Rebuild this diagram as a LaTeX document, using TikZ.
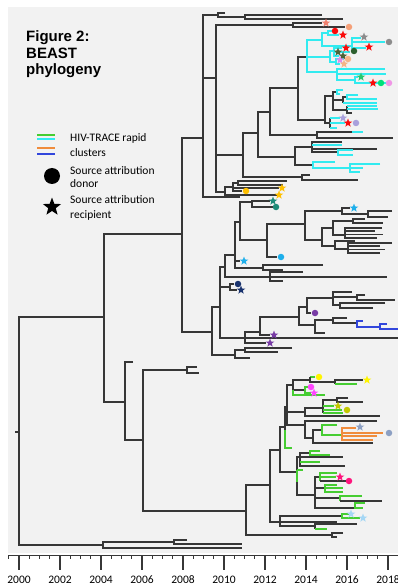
\documentclass[tikz,border=0pt]{standalone}
\usepackage{fontspec}
\setmainfont{Carlito}
\newfontfamily\ttlfont{Liberation Sans}
\usetikzlibrary{shapes.geometric}

\definecolor{bgc}{RGB}{242,242,242}
\definecolor{treec}{RGB}{55,55,55}
\definecolor{cyanc}{RGB}{50,235,240}
\definecolor{greenc}{RGB}{70,205,50}
\definecolor{orangec}{RGB}{240,140,60}
\definecolor{bluec}{RGB}{50,70,220}
\definecolor{salm}{RGB}{240,128,110}
\definecolor{salm2}{RGB}{245,160,120}
\definecolor{redc}{RGB}{250,10,10}
\definecolor{grayc}{RGB}{140,140,140}
\definecolor{dkgr}{RGB}{75,100,55}
\definecolor{dkgr2}{RGB}{45,95,45}
\definecolor{viol}{RGB}{225,140,235}
\definecolor{peach}{RGB}{245,180,135}
\definecolor{mgreen}{RGB}{40,200,110}
\definecolor{mint}{RGB}{0,225,120}
\definecolor{pinkc}{RGB}{240,150,230}
\definecolor{lav}{RGB}{170,160,220}
\definecolor{gold}{RGB}{255,192,0}
\definecolor{tealc}{RGB}{30,140,120}
\definecolor{skyb}{RGB}{30,175,235}
\definecolor{navyc}{RGB}{25,50,110}
\definecolor{purp}{RGB}{120,60,165}
\definecolor{yell}{RGB}{255,245,0}
\definecolor{mag}{RGB}{255,70,255}
\definecolor{olivc}{RGB}{195,200,0}
\definecolor{slate}{RGB}{140,160,195}
\definecolor{dpink}{RGB}{255,20,125}
\definecolor{lblue}{RGB}{165,215,245}

\tikzset{
  br/.style={draw=treec, line width=1.1pt},
  cy/.style={draw=cyanc, line width=1.1pt},
  gr/.style={draw=greenc, line width=1.1pt},
  og/.style={draw=orangec, line width=1.1pt},
  bl/.style={draw=bluec, line width=1.1pt},
  axis/.style={draw=treec, line width=1pt},
  donor/.style={circle, fill=#1, inner sep=0pt, minimum size=6.5pt},
  recip/.style={star, star points=5, star point ratio=2.4, fill=#1, inner sep=0pt, minimum size=9pt},
  lab/.style={anchor=base west, inner sep=0pt, font=\fontsize{11.5}{13}\selectfont},
  ttl/.style={anchor=base west, inner sep=0pt, font=\ttlfont\bfseries\fontsize{15}{17}\selectfont},
  yrlab/.style={anchor=base, inner sep=0pt, font=\fontsize{11.5}{13}\selectfont},
}

\newcounter{mk}
\newcommand{\dnr}[3]{\stepcounter{mk}\node[donor=#1] (mk\themk) at (#2,#3) {};}
\newcommand{\rcp}[3]{\stepcounter{mk}\node[recip=#1] (mk\themk) at (#2,#3) {};}

\begin{document}
\begin{tikzpicture}[x=1pt,y=-1pt]
\useasboundingbox (0,0) rectangle (398,585);
\fill[bgc] (8,7) rectangle (398,553);

% title
\node[ttl] (t1) at (26,42) {Figure 2:};
\node[ttl] (t2) at (26,58.5) {BEAST};
\node[ttl] (t3) at (26,75) {phylogeny};

% legend
\draw[gr] (37,135) -- (55,135);
\draw[cy] (37,139) -- (55,139);
\draw[og] (37,148) -- (55,148);
\draw[bl] (37,154) -- (55,154);
\node[lab] (l1) at (70,142) {HIV-TRACE rapid};
\node[lab] (l2) at (70,157) {clusters};
\node[donor=black, minimum size=16pt] (ld) at (52,176) {};
\node[lab] (l3) at (70,175) {Source attribution};
\node[lab] (l4) at (70,188) {donor};
\node[recip=black, minimum size=19pt] (lr) at (52,207) {};
\node[lab] (l5) at (70,204) {Source attribution};
\node[lab] (l6) at (70,218) {recipient};

% root and backbone
\draw[br] (15,432) -- (19,432);
\draw[br] (104,317) -| (19,545) -- (103,545);
\draw[br] (182,234) -| (104,402) -- (125,402);
\draw[br] (133,362) -| (125,440) -- (143,440);
\draw[br] (187,370) -| (143,511) -- (246,511);
\draw[br] (197,367) -| (187,373) -- (199,373);
\draw[br] (174,542) -| (103,548) -- (242,548);
\draw[br] (187,540) -| (174,544) -- (242,544);

% upper clade
\draw[br] (203,138) -| (182,332) -- (212,332);
\draw[br] (218,15) -| (203,197) -- (240,197);
\draw[br] (203,78) -- (216,78);
\draw[br] (225,13) -| (218,17) -- (245,17);
\draw[br] (322,15) -| (245,19) -- (343,19);
\draw[br] (293,25) -| (216,192) -- (225,192);
\draw[br] (216,155) -- (243,155);
\draw[br] (322,23) -| (293,27) -- (345,27);
\draw[br] (258,133) -| (243,177) -- (302,177);
\draw[br] (310,175) -| (302,180) -- (358,180);
\draw[br] (270,112) -| (258,157) -- (295,157);
\draw[br] (298,88) -| (270,135) -- (317,135);
\draw[br] (352,132) -| (317,138) -- (393,138);
\draw[cy] (352,132) -- (363,132);
\draw[br] (312,147) -| (295,165) -- (313,165);
\draw[br] (342,142) -| (312,152) -- (338,152);
\draw[br] (312,149) -- (377,149);
\draw[cy] (312,145) -- (342,145);
\draw[cy] (353,150) -| (338,155) -- (353,155);
\draw[cy] (335,162) -| (313,168) -- (350,168);
\draw[cy] (380,164) -| (350,172) -- (360,172);
\draw[cy] (350,168) -- (363,168);

% cyan cluster
\draw[br] (307,57) -| (298,120) -- (325,120);
\draw[cy] (322,40) -| (307,72) -- (337,72);
\draw[cy] (307,57) -- (330,57);
\draw[cy] (328,33) -| (322,46) -- (352,46);
\draw[cy] (332,31) -| (328,35) -- (339,35);
\draw[cy] (361,38) -| (352,48) -- (366,48);
\draw[cy] (352,42) -- (385,42);
\draw[cy] (334,51) -| (330,62) -- (336,62);
\draw[cy] (342,48) -| (334,56) -- (339,56);
\draw[cy] (334,52) -- (350,52);
\draw[cy] (344,59) -| (336,64) -- (340,64);
\draw[cy] (385,69) -| (337,80) -- (355,80);
\draw[cy] (337,74) -- (386,74);
\draw[cy] (358,77) -| (355,83) -- (386,83);
\draw[br] (333,96) -| (325,123) -- (330,123);
\draw[br] (337,92) -| (333,110) -- (347,110);
\draw[br] (333,100) -- (343,100);
\draw[cy] (343,90) -| (337,94) -- (340,94);
\draw[br] (347,97) -| (343,103);
\draw[cy] (343,103) -- (377,103);
\draw[cy] (358,95) -| (347,99) -- (377,99);
\draw[br] (347,106) -- (347,113) -- (352,113);
\draw[cy] (347,106) -- (377,106);
\draw[cy] (347,109) -- (378,109);
\draw[br] (330,118) -- (330,128);
\draw[cy] (330,118) -- (340,118);
\draw[cy] (330,123) -- (345,123);
\draw[cy] (330,128) -- (337,128);

% gold clade
\draw[br] (233,187) -| (225,195) -- (277,195);
\draw[br] (238,183) -| (233,191) -- (242,191);
\draw[br] (233,188) -- (279,188);
\draw[br] (287,181) -| (238,185) -- (283,185);

% middle clade
\draw[br] (220,307) -| (212,355) -- (235,355);
\draw[br] (245,350) -| (235,358) -- (250,358);
\draw[br] (292,348) -| (245,352) -- (278,352);
\draw[br] (225,267) -| (220,338) -- (245,338);
\draw[br] (220,287) -- (230,287);
\draw[br] (234,284) -| (230,290) -- (237,290);
\draw[br] (235,255) -| (225,277) -- (270,277);
\draw[br] (303,272) -| (270,281) -- (283,281);
\draw[br] (270,277) -- (387,277);
\draw[br] (240,222) -| (235,268) -- (263,268);
\draw[br] (235,261) -- (240,261);
\draw[br] (323,265) -| (263,270) -- (283,270);
\draw[br] (252,202) -| (240,240) -- (267,240);
\draw[br] (270,201) -| (252,207) -- (273,207);
\draw[br] (305,224) -| (267,257) -- (277,257);
\draw[br] (342,211) -| (305,240) -- (322,240);
\draw[br] (350,208) -| (342,214) -- (368,214);
\draw[br] (392,211) -| (368,217) -- (388,217);
\draw[br] (333,228) -| (322,246) -- (335,246);
\draw[br] (353,221) -| (333,235) -- (345,235);
\draw[br] (365,219) -| (353,223) -- (383,223);
\draw[br] (382,228) -| (345,238) -- (377,238);
\draw[br] (345,231) -- (375,231);
\draw[br] (345,234.5) -- (383,234.5);
\draw[br] (355,241) -| (335,249) -- (348,249);
\draw[br] (392,243) -| (348,253) -- (380,253);
\draw[br] (348,246) -- (380,246);
\draw[br] (348,249.5) -- (385,249.5);

% purple and blue
\draw[br] (260,332) -| (245,343) -- (266,343);
\draw[br] (245,338) -- (398,338);
\draw[br] (299,317) -| (260,335) -- (270,335);
\draw[br] (307,307) -| (299,325) -- (315,325);
\draw[br] (333,298) -| (307,313) -- (311,313);
\draw[br] (352,292) -| (333,305) -- (340,305);
\draw[br] (333,297) -- (357,297);
\draw[br] (365,295) -| (357,300) -- (395,300);
\draw[br] (385,303) -| (340,308) -- (373,308);
\draw[br] (333,320) -| (315,333) -- (325,333);
\draw[br] (347,318) -| (333,323) -- (357,323);
\draw[bl] (363,321) -| (357,327) -- (380,327);
\draw[bl] (387,324) -| (380,329) -- (398,329);

% lower clade
\draw[br] (270,485) -| (246,535) -- (332,535);
\draw[br] (343,533) -| (332,537) -- (337,537);
\draw[br] (280,450) -| (270,522) -- (280,522);
\draw[br] (342,516) -| (280,526) -- (315,526);
\draw[br] (280,522) -- (337,522);
\draw[gr] (349,514) -| (342,518) -- (360,518);
\draw[br] (357,524) -| (315,529);
\draw[gr] (315,529) -- (327,529);
\draw[br] (285,427) -| (280,472) -- (297,472);
\draw[br] (300,457) -| (297,495) -- (315,495);
\draw[br] (310,453) -| (300,466) -- (345,466);
\draw[br] (300,457) -- (343,457);
\draw[gr] (300,462) -- (320,462);
\draw[gr] (320,451) -| (310,455) -- (330,455);
\draw[gr] (297,470) -- (297,482);
\draw[gr] (297,470) -- (303,470);
\draw[br] (320,477) -| (315,508) -- (355,508);
\draw[br] (315,488) -- (325,488);
\draw[br] (315,498) -- (340,498);
\draw[gr] (337,473) -| (320,481);
\draw[gr] (320,477) -- (336,477);
\draw[br] (320,481) -- (346,481);
\draw[gr] (337,485) -| (325,492) -- (343,492);
\draw[gr] (325,488) -- (343,488);
\draw[gr] (362,496) -| (340,501);
\draw[br] (340,501) -- (382,501);
\draw[gr] (365,503) -| (355,508) -- (363,508);
\draw[br] (287,407) -| (285,430);
\draw[gr] (285,430) -- (285,448) -- (292,448);
\draw[br] (293,385) -| (287,425) -- (305,425);
\draw[br] (287,412) -- (305,412);
\draw[br] (310,380) -| (293,390) -- (305,390);
\draw[gr] (293,390) -- (293,395) -- (325,395);
\draw[gr] (310,377) -- (315,377);
\draw[br] (310,377) -- (310,382) -- (335,382);
\draw[br] (363,380) -| (335,384);
\draw[gr] (335,384) -- (357,384);
\draw[gr] (308,387) -| (305,393) -- (311,393);
\draw[br] (323,408) -| (305,416) -- (380,416);
\draw[br] (337,400) -| (323,413);
\draw[gr] (323,406) -- (334,406);
\draw[gr] (323,410) -- (342,410);
\draw[gr] (323,413) -- (343,413);
\draw[br] (348,398) -| (337,402) -- (363,402);
\draw[br] (377,421) -| (305,438) -- (313,438);
\draw[br] (322,430) -| (313,443) -- (373,443);
\draw[gr] (337,425) -| (322,435) -- (342,435);
\draw[og] (356,428) -| (342,440) -- (373,440);
\draw[og] (342,433) -- (383,433);
\draw[og] (342,436) -- (377,436);

% source attribution marks
\rcp{salm}{326}{23} \dnr{salm2}{349}{27}
\dnr{redc}{335}{31} \rcp{redc}{343}{35}
\rcp{grayc}{364}{37} \dnr{grayc}{389}{42} \rcp{redc}{369}{47}
\rcp{redc}{346}{48} \rcp{dkgr}{338}{52} \rcp{dkgr}{343}{56} \dnr{dkgr2}{354}{51}
\rcp{viol}{340}{60} \dnr{peach}{348}{59} \rcp{peach}{344}{64}
\rcp{mgreen}{361}{77} \rcp{redc}{373}{83} \dnr{mint}{381}{83} \dnr{pinkc}{389}{83}
\rcp{lav}{343}{118} \rcp{redc}{348}{123} \dnr{lav}{356}{123}
\dnr{gold}{246}{191} \rcp{gold}{282}{188} \rcp{gold}{279}{195}
\rcp{tealc}{273}{201} \dnr{tealc}{276}{207}
\rcp{skyb}{354}{208} \rcp{skyb}{244}{261} \dnr{skyb}{281}{257}
\dnr{navyc}{238}{284} \rcp{navyc}{241}{290}
\dnr{purp}{315}{313} \rcp{purp}{274}{335} \rcp{purp}{270}{343}
\dnr{yell}{319}{377} \rcp{yell}{367}{380}
\dnr{mag}{311}{387} \rcp{mag}{314}{393}
\rcp{olivc}{338}{406} \dnr{olivc}{347}{410}
\rcp{slate}{360}{427} \dnr{slate}{389}{433}
\rcp{dpink}{340}{477} \dnr{dpink}{349}{481}
\rcp{lblue}{351}{514} \rcp{lblue}{363}{518}

% time axis
\draw[axis] (8,555) -- (398,555);
\foreach \k in {-1,...,36}
  \draw[axis] ({19+\k*10.25},555) -- ++(0,4);
\foreach \yr [count=\i from 0] in {2000,2002,...,2018} {
  \draw[axis, line width=1.4pt] ({19+\i*41},555) -- ++(0,15);
  \node[yrlab] (y\yr) at ({19+\i*41},583) {\yr};
}
\end{tikzpicture}
\end{document}
